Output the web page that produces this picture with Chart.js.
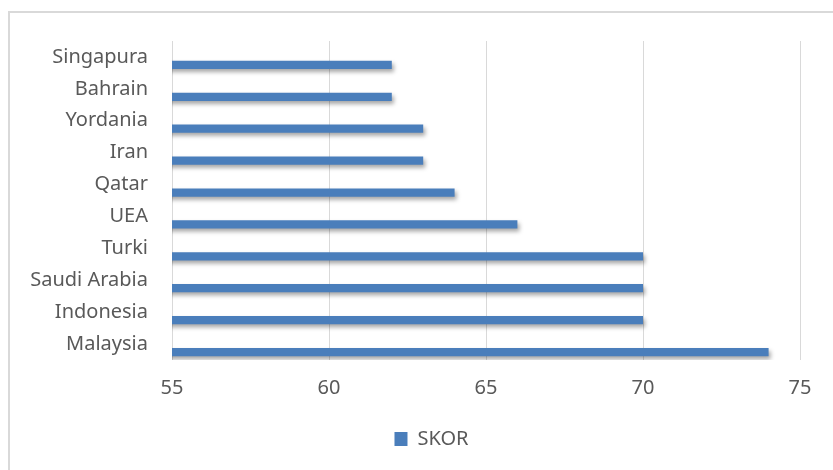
<!DOCTYPE html>
<html lang="id">
    <head>
        <meta charset="UTF-8">
        <title>Skor</title>
        <style>
            body { margin: 0; background: #fff; overflow: hidden; }
            .bingkai {
                position: absolute; left: 8px; top: 11px;
                width: 900px; height: 500px;
                border-top: 2px solid #d9d9d9; border-left: 2px solid #d9d9d9;
            }
            .wadah { position: absolute; left: 0; top: 0; width: 833px; height: 470px; }
        </style>
    </head>
    <body>
        <div class="bingkai"></div>
        <div class="wadah">
            <canvas id="grafikSkor"></canvas>
        </div>

        <script src="https://cdn.jsdelivr.net/npm/chart.js"></script>
        <script>
            const negara = ['Singapura', 'Bahrain', 'Yordania', 'Iran', 'Qatar', 'UEA', 'Turki', 'Saudi Arabia', 'Indonesia', 'Malaysia'];
            const skor = [62, 62, 63, 63, 64, 66, 70, 70, 70, 74];
            const kosong = [null, null, null, null, null, null, null, null, null, null];
            const tickSkor = [55, 60, 65, 70, 75];

            const warnaTeks = '#595959';
            const fontUtama = { family: 'Noto Sans', size: 20 };

            // bayangan di bawah batang
            const bayangan = {
                id: 'bayangan',
                beforeDatasetsDraw(chart) {
                    const ctx = chart.ctx;
                    ctx.save();
                    ctx.shadowColor = 'rgba(0,0,0,0.35)';
                    ctx.shadowBlur = 4;
                    ctx.shadowOffsetX = 2;
                    ctx.shadowOffsetY = 3;
                },
                afterDatasetsDraw(chart) {
                    chart.ctx.restore();
                }
            };

            new Chart(document.getElementById('grafikSkor'), {
                type: 'bar',
                data: {
                    labels: negara,
                    datasets: [
                        { label: '', data: kosong, backgroundColor: '#4a7ebb' },
                        { label: 'SKOR', data: skor, backgroundColor: '#4a7ebb' }
                    ]
                },
                options: {
                    indexAxis: 'y',
                    responsive: true,
                    maintainAspectRatio: false,
                    animation: false,
                    categoryPercentage: 1.0,
                    barPercentage: 0.52,
                    layout: { padding: { top: 41, right: 0, left: 30, bottom: 11 } },
                    plugins: {
                        tooltip: { enabled: false },
                        legend: {
                            position: 'bottom',
                            labels: {
                                filter: item => item.text !== '',
                                boxWidth: 13,
                                boxHeight: 14,
                                color: warnaTeks,
                                font: fontUtama,
                                padding: 4
                            }
                        }
                    },
                    scales: {
                        x: {
                            min: 55,
                            max: 75,
                            afterBuildTicks: s => { s.ticks = tickSkor.map(v => ({ value: v })); },
                            grid: { color: '#d9d9d9', drawTicks: false },
                            border: { display: false },
                            ticks: { color: warnaTeks, font: fontUtama, padding: 16 },
                            afterFit: s => { s.height = 65; s.paddingRight = 33; }
                        },
                        y: {
                            grid: { display: false, drawTicks: false },
                            border: { display: false },
                            ticks: { color: warnaTeks, font: fontUtama, padding: 24 },
                            afterFit: s => { s.width = 142; }
                        }
                    }
                },
                plugins: [bayangan]
            });
        </script>
    </body>
</html>
